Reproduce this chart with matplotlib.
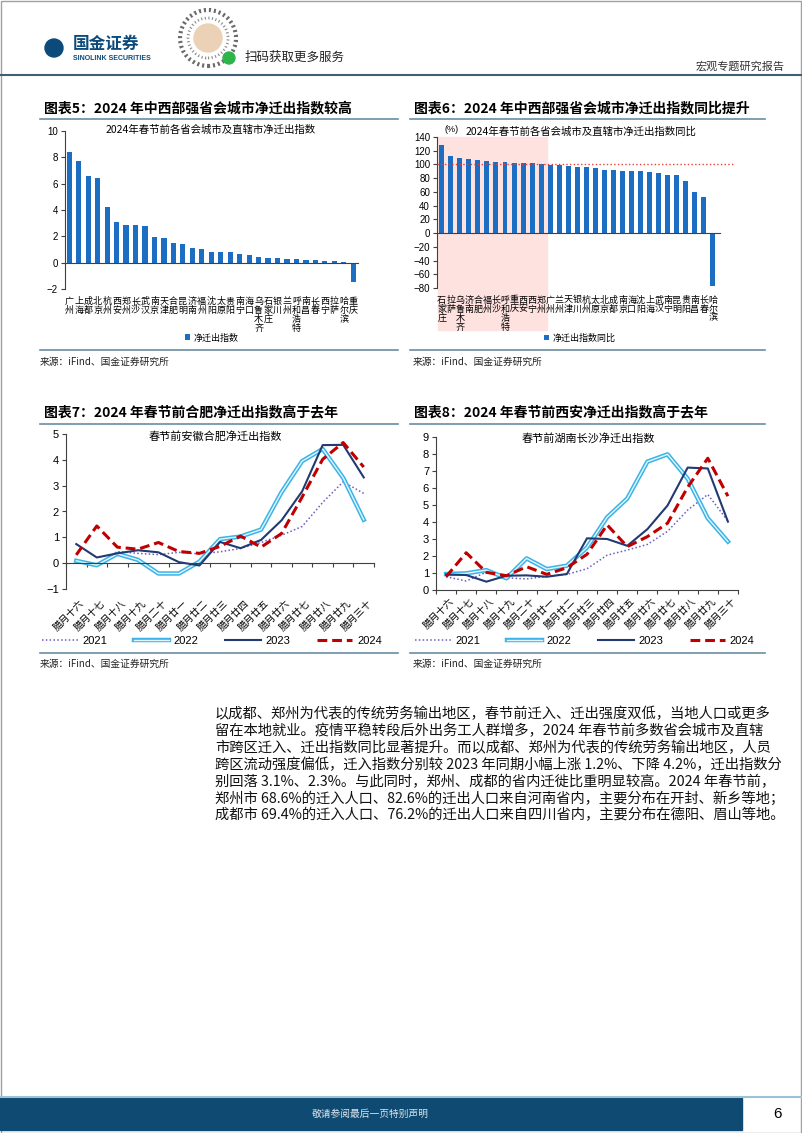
import matplotlib
matplotlib.use("Agg")
import matplotlib.pyplot as plt
import matplotlib.patheffects as pe
import matplotlib.transforms as mtransforms
from matplotlib.patches import Rectangle, Ellipse
import numpy as np

plt.rcParams['font.family'] = ['Liberation Sans', 'Noto Sans CJK SC']

# ---- data ----
cities5 = ['广州', '上海', '成都', '北京', '杭州', '西安', '郑州', '长沙', '武汉', '南京',
           '天津', '合肥', '昆明', '济南', '福州', '沈阳', '太原', '贵阳', '南宁', '海口',
           '乌鲁木齐', '石家庄', '银川', '兰州', '呼和浩特', '南昌', '长春', '西宁', '拉萨',
           '哈尔滨', '重庆']
net5 = [8.4, 7.75, 6.55, 6.45, 4.25, 3.1, 2.85, 2.85, 2.8, 1.97,
        1.9, 1.5, 1.42, 1.12, 1.06, 0.84, 0.82, 0.78, 0.68, 0.58,
        0.43, 0.35, 0.33, 0.3, 0.25, 0.2, 0.18, 0.15, 0.1, 0.05, -1.45]

cities6 = ['石家庄', '拉萨', '乌鲁木齐', '济南', '合肥', '福州', '长沙', '呼和浩特', '重庆', '西安',
           '西宁', '郑州', '广州', '兰州', '天津', '银川', '杭州', '太原', '北京', '成都',
           '南京', '海口', '沈阳', '上海', '武汉', '南宁', '昆明', '贵阳', '南昌', '长春', '哈尔滨']
yoy6 = [128, 112, 110, 108, 107, 105, 104, 104, 102.5, 102.5,
        101.5, 100, 99.6, 99.4, 97.7, 96.2, 96, 94.8, 92, 91.8,
        90.9, 90.4, 90, 89, 87, 85, 84.6, 75.4, 60.4, 53.2, -76.4]

days = ['腊月十六', '腊月十七', '腊月十八', '腊月十九', '腊月二十', '腊月廿一', '腊月廿二', '腊月廿三',
        '腊月廿四', '腊月廿五', '腊月廿六', '腊月廿七', '腊月廿八', '腊月廿九', '腊月三十']
years = ['2021', '2022', '2023', '2024']

hefei_2021 = [0.05, -0.05, 0.45, 0.38, 0.33, 0.42, 0.36, 0.44, 0.57, 0.8, 1.08, 1.42, 2.35, 3.15, 2.7]
hefei_2022 = [0.09, -0.08, 0.36, 0.13, -0.4, -0.4, 0.06, 0.93, 1.03, 1.3, 2.75, 3.95, 4.42, 3.3, 1.68]
hefei_2023 = [0.74, 0.22, 0.38, 0.5, 0.42, 0.04, -0.09, 0.82, 0.58, 0.9, 1.66, 2.78, 4.57, 4.58, 3.32]
hefei_2024 = [0.32, 1.44, 0.62, 0.54, 0.8, 0.45, 0.38, 0.65, 1.05, 0.62, 1.15, 2.56, 4.02, 4.67, 3.72]

cs_2021 = [0.78, 0.53, 1.05, 0.72, 0.65, 0.8, 0.92, 1.25, 2.05, 2.35, 2.68, 3.45, 4.7, 5.62, 4.05]
cs_2022 = [0.94, 0.98, 1.17, 0.69, 1.86, 1.23, 1.43, 2.5, 4.28, 5.38, 7.55, 7.98, 6.55, 4.22, 2.85]
cs_2023 = [0.92, 0.88, 0.49, 0.84, 0.86, 0.78, 0.94, 3.04, 3.0, 2.6, 3.58, 4.97, 7.2, 7.15, 4.02]
cs_2024 = [0.78, 2.19, 1.04, 0.84, 1.37, 0.92, 1.31, 2.1, 3.83, 2.55, 3.14, 3.93, 6.05, 7.75, 5.52]

body = [
    "以成都、郑州为代表的传统劳务输出地区，春节前迁入、迁出强度双低，当地人口或更多",
    "留在本地就业。疫情平稳转段后外出务工人群增多，2024 年春节前多数省会城市及直辖",
    "市跨区迁入、迁出指数同比显著提升。而以成都、郑州为代表的传统劳务输出地区，人员",
    "跨区流动强度偏低，迁入指数分别较 2023 年同期小幅上涨 1.2%、下降 4.2%，迁出指数分",
    "别回落 3.1%、2.3%。与此同时，郑州、成都的省内迁徙比重明显较高。2024 年春节前，",
    "郑州市 68.6%的迁入人口、82.6%的迁出人口来自河南省内，主要分布在开封、新乡等地；",
    "成都市 69.4%的迁入人口、76.2%的迁出人口来自四川省内，主要分布在德阳、眉山等地。",
]

W, H = 802, 1133
BLUE = '#1B6EC2'
NAVY = '#0E4A72'
RULE = '#6B8EA3'
CJK = ['Noto Sans CJK SC', 'DejaVu Sans']

fig = plt.figure(figsize=(W / 100, H / 100), dpi=100)
fig.patch.set_facecolor('white')


def add_ax(x0, y0, x1, y1):
    return fig.add_axes([x0 / W, 1 - y1 / H, (x1 - x0) / W, (y1 - y0) / H])


def ftext(x, y, s, **kw):
    return fig.text(x / W, 1 - y / H, s, **kw)


def hline(x0, x1, y, color=RULE, lw=1.2):
    fig.add_artist(plt.Line2D([x0 / W, x1 / W], [1 - y / H, 1 - y / H], color=color, lw=lw))


def dot(cx, cy, r, **kw):
    fig.add_artist(Ellipse((cx / W, 1 - cy / H), 2 * r / W, 2 * r / H, transform=fig.transFigure, **kw))


def style_axis(ax, size=7):
    for s in ['top', 'right']:
        ax.spines[s].set_visible(False)
    for s in ['left', 'bottom']:
        ax.spines[s].set_color('#404040')
        ax.spines[s].set_linewidth(0.8)
    ax.tick_params(axis='y', direction='out', length=3, width=0.8, color='#404040', labelsize=size, pad=2)
    ax.set_facecolor('none')


# ---- page frame, header ----
fig.add_artist(Rectangle((0.5 / W, 0.5 / H), (W - 1.5) / W, (H - 1.5) / H, transform=fig.transFigure,
                         fill=False, edgecolor='#A0A0A0', lw=1))
dot(54, 48, 9, color='#0B4A7A')
ftext(73, 44, '国金证券', fontsize=12, fontweight='bold', color='#0B4A7A', family=CJK, va='center')
ftext(73, 58, 'SINOLINK SECURITIES', fontsize=5, fontweight='bold', color='#0B4A7A', va='center')
dot(208, 38, 28, facecolor='none', edgecolor='#6A6A6A', lw=3, ls=(0, (0.5, 0.7)))
dot(208, 38, 20, facecolor='none', edgecolor='#8A8A8A', lw=2, ls=(0, (0.4, 0.9)))
dot(208, 38, 14, color='#EBD2B6')
dot(229, 58, 6, color='#2DB54B')
ftext(245, 57, '扫码获取更多服务', fontsize=9, family=CJK, va='center', color='#222222')
ftext(785, 66, '宏观专题研究报告', fontsize=8, family=CJK, va='center', ha='right', color='#333333')
hline(0, W, 75, color='#3F5F75', lw=1.5)

# ---- chart titles and rules ----
ftext(44, 108, '图表5：2024 年中西部强省会城市净迁出指数较高', fontsize=10, fontweight='bold', family=CJK, va='center')
ftext(414, 108, '图表6：2024 年中西部强省会城市净迁出指数同比提升', fontsize=10, fontweight='bold', family=CJK, va='center')
ftext(44, 412, '图表7：2024 年春节前合肥净迁出指数高于去年', fontsize=10, fontweight='bold', family=CJK, va='center')
ftext(414, 412, '图表8：2024 年春节前西安净迁出指数高于去年', fontsize=10, fontweight='bold', family=CJK, va='center')
for y in (119, 350, 424, 653):
    hline(40, 398, y)
    hline(410, 765, y)
for y in (362, 664):
    ftext(40, y, '来源：iFind、国金证券研究所', fontsize=7, family=CJK, va='center', color='#222222')
    ftext(413, y, '来源：iFind、国金证券研究所', fontsize=7, family=CJK, va='center', color='#222222')

# ---- chart 5 ----
ax5 = add_ax(65, 131, 358, 289)
x5 = np.arange(len(cities5))
bars5 = ax5.bar(x5, net5, width=0.55, color=BLUE)
ax5.set_xlim(-0.45, 30.5)
ax5.set_ylim(-2, 10)
ax5.set_yticks(range(-2, 11, 2))
style_axis(ax5)
ax5.spines['bottom'].set_position(('data', 0))
ax5.set_xticks([])
tr5 = mtransforms.blended_transform_factory(ax5.transData, ax5.transAxes)
for i, name in enumerate(cities5):
    ax5.text(i, -0.05, '\n'.join(name), transform=tr5, ha='center', va='top', fontsize=6.5,
             linespacing=1.0, family=CJK, clip_on=False)
ftext(211, 130, '2024年春节前各省会城市及直辖市净迁出指数', fontsize=7.5, family=CJK, ha='center', va='center')
fig.legend([bars5], ['净迁出指数'], loc='center', bbox_to_anchor=(212 / W, 1 - 338 / H), frameon=False,
           handlelength=0.6, handleheight=0.6, handletextpad=0.4, prop={'family': CJK, 'size': 6.5})

# ---- chart 6 ----
ax6 = add_ax(437, 137, 720, 288)
x6 = np.arange(len(cities6))
bars6 = ax6.bar(x6, yoy6, width=0.55, color=BLUE, zorder=2)
ax6.set_xlim(-0.52, 30.78)
ax6.set_ylim(-80, 140)
ax6.set_yticks(range(-80, 141, 20))
style_axis(ax6)
ax6.spines['bottom'].set_position(('data', 0))
ax6.set_xticks([])
tr6 = mtransforms.blended_transform_factory(ax6.transData, ax6.transAxes)
ax6.add_patch(Rectangle((-0.42, -0.278), 12.07, 1.278, transform=tr6, color='#FDE2E0', zorder=0, clip_on=False))
ax6.plot([-0.52, 32.2], [100, 100], color='#E8403A', ls=':', lw=1, clip_on=False, zorder=3)
for i, name in enumerate(cities6):
    ax6.text(i, -0.05, '\n'.join(name), transform=tr6, ha='center', va='top', fontsize=6.5,
             linespacing=1.0, family=CJK, clip_on=False, zorder=4)
ftext(444, 130, '(%)', fontsize=6.5, va='center')
ftext(581, 132, '2024年春节前各省会城市及直辖市净迁出指数同比', fontsize=7.5, family=CJK, ha='center', va='center')
fig.legend([bars6], ['净迁出指数同比'], loc='center', bbox_to_anchor=(580 / W, 1 - 338 / H), frameon=False,
           handlelength=0.6, handleheight=0.6, handletextpad=0.4, prop={'family': CJK, 'size': 6.5})


# ---- line charts ----
def line_chart(ax, series, ylim, yticks, title, title_xy, legend_x, label_off):
    xs = np.arange(len(days))
    styles = [
        dict(color='#6B5BC0', ls=(0, (1, 1.5)), lw=1.1),
        dict(color='#E4F6FD', lw=1.0, path_effects=[pe.Stroke(linewidth=3.2, foreground='#3AB4E6'), pe.Normal()]),
        dict(color='#213A72', lw=1.5),
        dict(color='#C00000', ls=(0, (3.2, 1.6)), lw=2.2),
    ]
    handles = []
    for vals, st, yr in zip(series, styles, years):
        h, = ax.plot(xs, vals, label=yr, **st)
        handles.append(h)
    ax.set_xlim(-0.5, len(days) - 0.5)
    ax.set_ylim(*ylim)
    ax.set_yticks(yticks)
    style_axis(ax, size=8)
    ax.spines['bottom'].set_position(('data', 0))
    ax.set_xticks(np.arange(-0.5, len(days), 1))
    ax.tick_params(axis='x', direction='out', length=3, width=0.8, color='#404040', labelbottom=False)
    tr = mtransforms.blended_transform_factory(ax.transData, ax.transAxes)
    for i, d in enumerate(days):
        ax.text(i + 0.15, label_off, d, transform=tr, rotation=45, ha='right', va='top',
                rotation_mode='anchor', fontsize=7, family=CJK, clip_on=False)
    ftext(title_xy[0], title_xy[1], title, fontsize=8, family=CJK, ha='center', va='center')
    ax.legend(handles, years, loc='center', bbox_to_anchor=(legend_x / W, 1 - 641 / H),
              bbox_transform=fig.transFigure, ncol=4, frameon=False, fontsize=8,
              handlelength=3.2, columnspacing=2.4, handletextpad=0.4)


ax7 = add_ax(66, 434, 374, 589)
line_chart(ax7, [hefei_2021, hefei_2022, hefei_2023, hefei_2024], (-1, 5), range(-1, 6),
           '春节前安徽合肥净迁出指数', (215, 436), 212, -0.06)

ax8 = add_ax(436, 437, 738, 590)
line_chart(ax8, [cs_2021, cs_2022, cs_2023, cs_2024], (0, 9), range(0, 10),
           '春节前湖南长沙净迁出指数', (588, 438), 585, -0.04)

# ---- body text ----
for k, line in enumerate(body):
    ftext(215, 714 + 16.9 * k, line, fontsize=10.3, family=CJK, va='center', color='#111111')

# ---- footer ----
hline(0, W, 1097, color='#9CC2D8', lw=1.5)
fig.add_artist(Rectangle((0, 1 - 1130 / H), 742 / W, 32 / H, transform=fig.transFigure, color=NAVY))
ftext(370, 1114, '敬请参阅最后一页特别声明', fontsize=7, family=CJK, ha='center', va='center', color='#DDE6EE')
ftext(778, 1114, '6', fontsize=11, ha='center', va='center')

fig.savefig('out.png', dpi=100, facecolor='white')
